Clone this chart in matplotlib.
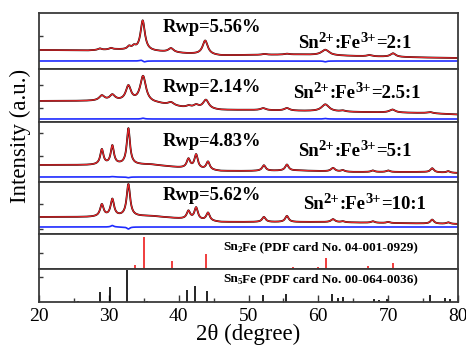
import numpy as np
import matplotlib
matplotlib.use("Agg")
import matplotlib.pyplot as plt

plt.rcParams['font.family'] = ['Liberation Serif', 'DejaVu Serif']

# Refined patterns: background points and fitted peaks (2theta, height, FWHM)
rwp = ["Rwp=5.56%", "Rwp=2.14%", "Rwp=4.83%", "Rwp=5.62%"]
ratios = ["2:1", "2.5:1", "5:1", "10:1"]

bg_x = [[20, 27, 31, 33, 37, 41, 46, 50, 57, 65, 75, 80],
        [20, 27, 31, 37, 41, 46, 50, 58, 65, 75, 80],
        [20, 27, 31, 36, 40, 46, 50, 57, 65, 75, 80],
        [20, 27, 31, 36, 40, 46, 50, 60, 70, 80]]
bg_y = [[19, 18.5, 19.5, 19, 17.5, 15.5, 13.5, 14, 14.5, 13, 11.5, 11],
        [21, 21, 21, 18.5, 14, 12, 12, 11, 10, 9, 7.5],
        [17, 17, 17.5, 17.5, 14.5, 11, 11, 11.5, 10, 10, 9],
        [17, 17, 17.5, 18, 15.5, 12, 12, 12, 11, 10]]

pk_pos = [[28.7, 30.3, 32.9, 33.6, 34.85, 38.9, 43.8, 52.3, 55.5, 61.0, 67.3, 70.7],
          [29.0, 30.5, 32.8, 34.9, 38.9, 41.4, 42.5, 43.9, 52.1, 55.5, 61.0, 63.5, 70.6, 76.0],
          [29.0, 30.5, 32.8, 41.4, 42.5, 44.2, 52.2, 55.5, 62.1, 63.5, 67.8, 70.0, 76.3, 78.6],
          [29.0, 30.5, 32.8, 41.4, 42.5, 44.2, 52.2, 55.5, 62.1, 63.5, 67.8, 70.0, 76.3, 78.6]]
pk_amp = [[1.5, 1.5, 3, 3, 30, 4, 14, 0.8, 0.8, 5.5, 1.2, 3.5],
          [5, 5.5, 15, 26, 3, 2, 3, 9, 2, 2.5, 7, 1, 3, 1.2],
          [15, 18.5, 36, 9, 14, 8, 5.5, 6, 3.5, 1.5, 1.5, 1.5, 4, 1.5],
          [12, 17, 32, 8, 12, 8, 5, 6, 3, 1, 1.5, 1, 4, 1.5]]
pk_fwhm = [[0.6, 0.6, 0.6, 0.6, 0.75, 0.9, 0.9, 0.8, 0.8, 1.3, 0.8, 0.9],
           [0.9, 0.9, 0.9, 1.0, 1.0, 0.9, 0.9, 1.0, 0.9, 0.9, 1.3, 0.8, 1.0, 0.9],
           [0.55, 0.55, 0.55, 0.6, 0.6, 0.6, 0.6, 0.6, 0.7, 0.6, 0.6, 0.6, 0.6, 0.6],
           [0.6, 0.6, 0.6, 0.6, 0.6, 0.6, 0.6, 0.6, 0.7, 0.6, 0.6, 0.6, 0.6, 0.6]]

diff_level = [8, 3, 5, 7]
diff_pos = [[34.6, 35.1, 61.0], [34.9, 61.0], [32.8, 30.5], [30.5, 32.8]]
diff_amp = [[1.0, -1.0, -0.8], [0.8, 0.5], [-0.7, 0.4], [1.5, -2.0]]

# Reference cards (2theta, relative intensity)
sn2fe_pos = [27.3, 33.75, 35.1, 39.0, 43.9, 56.4, 60.0, 61.1, 63.7, 67.1, 70.7]
sn2fe_int = [3, 12, 100, 25, 47, 5, 6, 34, 3, 9, 19]
sn5fe_pos = [25.6, 28.7, 30.2, 32.6, 35.4, 41.2, 42.3, 44.1, 52.1, 55.4, 62.0,
             62.8, 63.5, 67.9, 68.7, 69.8, 76.0, 78.2, 78.8]
sn5fe_int = [3, 31, 47, 100, 3, 38, 50, 34, 22, 25, 25, 12, 16, 9, 6, 9, 22, 12, 9]

tt = np.linspace(20, 80, 3000)


def profile(pos, amp, fwhm):
    out = np.zeros_like(tt)
    for p, a, w in zip(pos, amp, fwhm):
        out += a / (1 + ((tt - p) / (w / 2)) ** 2)
    return out


W, H = 466, 346
fig = plt.figure(figsize=(W / 100, H / 100), dpi=100)
gs = fig.add_gridspec(6, 1, height_ratios=[56, 53, 60, 52, 35, 33], hspace=0,
                      left=39 / W, right=458 / W, top=1 - 13 / H, bottom=1 - 302 / H)
axes = [fig.add_subplot(gs[i]) for i in range(6)]

ylims = [56, 53, 60, 52]
yticks = [[33], [14, 37], [26, 49], [5, 30]]
for i in range(4):
    ax = axes[i]
    calc = np.interp(tt, bg_x[i], bg_y[i]) + profile(pk_pos[i], pk_amp[i], pk_fwhm[i])
    diff = diff_level[i] + profile(diff_pos[i], diff_amp[i], [0.5] * len(diff_pos[i]))
    ax.plot(tt, calc, color="black", lw=1.3)
    ax.plot(tt, calc, color="#e8262a", lw=0.9)
    ax.plot(tt, diff, color="#1f2bff", lw=1.2)
    ax.set_ylim(0, ylims[i])
    ax.set_yticks(yticks[i])

axes[4].vlines(sn2fe_pos, 0, sn2fe_int, color="#ee1c1c", lw=1.2)
axes[4].set_ylim(0, 109)
axes[4].set_yticks([50])
axes[5].vlines(sn5fe_pos, 0, sn5fe_int, color="black", lw=1.2)
axes[5].set_ylim(0, 103)
axes[5].set_yticks([78])

for i, ax in enumerate(axes):
    ax.set_xlim(20, 80)
    ax.set_yticklabels([])
    for s in ax.spines.values():
        s.set_color("#3a3a3a")
        s.set_linewidth(1.3)
    ax.tick_params(axis="y", direction="in", length=3, width=1, color="#3a3a3a")
    ax.tick_params(axis="x", which="both", direction="in", color="#3a3a3a", width=1,
                   top=False)
    if i < 5:
        ax.tick_params(axis="x", which="both", bottom=False, labelbottom=False)

axes[5].set_xticks(np.arange(20, 81, 10))
axes[5].set_xticks(np.arange(25, 80, 10), minor=True)
axes[5].tick_params(axis="x", which="major", length=5, labelsize=14, pad=4)
axes[5].tick_params(axis="x", which="minor", length=3)

renderer = fig.canvas.get_renderer()


def pieces(x, y, parts):
    # x, y in pixels from top-left; y is baseline
    for s, size, dy in parts:
        t = fig.text(x / W, 1 - (y - dy) / H, s, fontsize=size, fontweight="bold",
                     va="baseline", ha="left")
        x = t.get_window_extent(renderer).x1


# annotations
rwp_y = [28, 88, 141, 195]
lab_x = [298, 293, 298, 303]
lab_y = [48, 98, 156, 209]
for i in range(4):
    fig.text(163 / W, 1 - rwp_y[i] / H, rwp[i], fontsize=13.3, fontweight="bold",
             va="center", ha="left")
    pieces(lab_x[i], lab_y[i], [("Sn", 13.5, 0), ("2+", 10.5, 6.5), (":Fe", 13.5, 0),
                                ("3+", 10.5, 6.5), ("=" + ratios[i], 13.5, 0)])

pieces(223, 250, [("Sn", 9.5, 0), ("2", 6.5, -2), ("Fe (PDF card No. 04-001-0929)", 9.5, 0)])
pieces(223, 282, [("Sn", 9.5, 0), ("5", 6.5, -2), ("Fe (PDF card No. 00-064-0036)", 9.5, 0)])

fig.text(20 / W, 1 - 136 / H, "Intensity (a.u.)", fontsize=16.5, rotation=90,
         va="center", ha="center")
fig.text(248 / W, 1 - 334 / H, "2θ (degree)", fontsize=16.5, va="center", ha="center")

fig.savefig("out.png", dpi=100)
